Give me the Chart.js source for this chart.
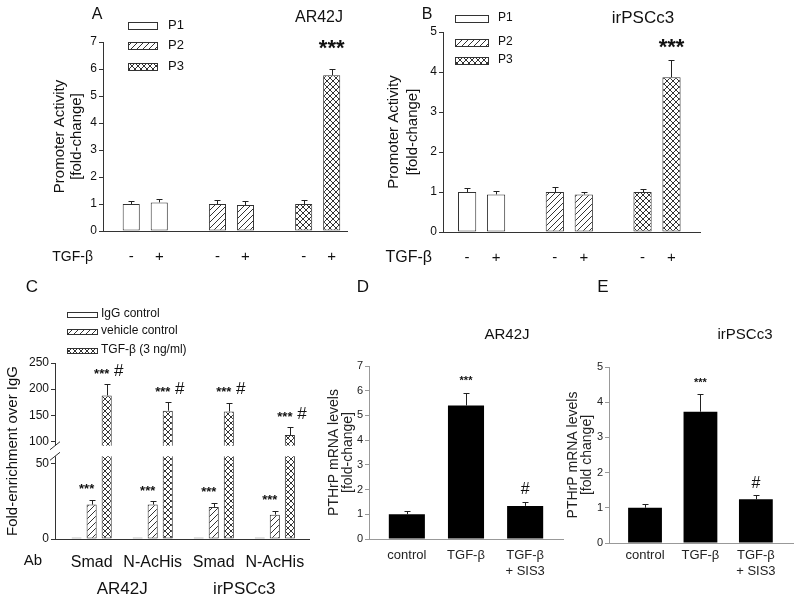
<!DOCTYPE html>
<html lang="en">
<head>
<meta charset="UTF-8">
<title>PTHrP promoter activity, ChIP enrichment and mRNA levels</title>
<script src="https://cdn.jsdelivr.net/npm/chart.js"></script>
<style>
  body { margin: 0; background: #fff; }
  #page { position: relative; width: 800px; height: 601px; overflow: hidden; }
  .panel { position: absolute; }
</style>
</head>
<body>
<div id="page">
  <div class="panel" style="left:0;top:0;width:370px;height:270px"><canvas id="chartA"></canvas></div>
  <div class="panel" style="left:370px;top:0;width:430px;height:270px"><canvas id="chartB"></canvas></div>
  <div class="panel" style="left:0;top:270px;width:330px;height:331px"><canvas id="chartC"></canvas></div>
  <div class="panel" style="left:322px;top:270px;width:248px;height:331px"><canvas id="chartD"></canvas></div>
  <div class="panel" style="left:560px;top:270px;width:240px;height:331px"><canvas id="chartE"></canvas></div>
</div>

<script>
const SANS = '"Liberation Sans", Arial, sans-serif';
const NARROW = '"Liberation Sans Narrow", "Arial Narrow", "Liberation Sans", sans-serif';

// --- A / B: promoter reporter assays ---
const promoters = ['P1', 'P2', 'P3'];
const treatments = ['-', '+'];

const aMinus = [1.0, 1.0, 1.0];
const aMinusErr = [0.10, 0.14, 0.14];
const aPlus = [1.06, 0.96, 5.77];
const aPlusErr = [0.14, 0.14, 0.22];
const aPlusStars = ['', '', '***'];

const bMinus = [1.0, 1.0, 1.0];
const bMinusErr = [0.11, 0.13, 0.07];
const bPlus = [0.94, 0.94, 3.87];
const bPlusErr = [0.09, 0.06, 0.44];
const bPlusStars = ['', '', '***'];

// --- C: ChIP fold-enrichment ---
const cAntibodies = ['Smad', 'N-AcHis', 'Smad', 'N-AcHis'];
const cCells = ['AR42J', 'irPSCc3'];
const cConditions = ['IgG control', 'vehicle control', 'TGF-β (3 ng/ml)'];
const cIgG = [1, 1, 1, 1];
const cVehicle = [22.9, 22.9, 21.3, 16.2];
const cVehicleErr = [3.3, 2.1, 2.7, 2.7];
const cVehicleStars = ['***', '***', '***', '***'];
const cTgf = [188, 159, 157.5, 112.5];
const cTgfErr = [22, 16, 17, 14.5];
const cTgfStars = ['***', '***', '***', '***'];
const cTgfHash = ['#', '#', '#', '#'];

// --- D / E: PTHrP mRNA ---
const mrnaGroups = ['control', 'TGF-β', ['TGF-β', '+ SIS3']];
const dMrna = [1.0, 5.4, 1.34];
const dErr = [0.13, 0.5, 0.15];
const eMrna = [1.0, 3.73, 1.24];
const eErr = [0.12, 0.51, 0.13];
const mrnaStars = ['', '***', ''];
const mrnaHash = ['', '', '#'];

Chart.defaults.animation = false;
Chart.defaults.font.family = SANS;
Chart.defaults.color = '#111';
Chart.defaults.plugins.legend.display = false;
Chart.defaults.plugins.tooltip.enabled = false;

// linear scale with a cut between gap.from and gap.to
class BrokenScale extends Chart.LinearScale {
  getPixelForValue(v) {
    if (v === null) return NaN;
    const g = this.options.gap;
    let d;
    if (v <= g.from) d = (v - this.min) / (g.from - this.min) * g.lo;
    else if (v >= g.to) d = g.hi + (v - g.to) / (this.max - g.to) * (1 - g.hi);
    else d = g.lo + (v - g.from) / (g.to - g.from) * (g.hi - g.lo);
    return this.getPixelForDecimal(d);
  }
  getValueForPixel(p) {
    const g = this.options.gap;
    const d = this.getDecimalForPixel(p);
    if (d <= g.lo) return this.min + d / g.lo * (g.from - this.min);
    if (d >= g.hi) return g.to + (d - g.hi) / (1 - g.hi) * (this.max - g.to);
    return g.from + (d - g.lo) / (g.hi - g.lo) * (g.to - g.from);
  }
}
BrokenScale.id = 'broken';
BrokenScale.defaults = Chart.LinearScale.defaults;
Chart.register(BrokenScale);

function pattern(kind) {
  const s = 6;
  const c = document.createElement('canvas');
  c.width = s; c.height = s;
  const g = c.getContext('2d');
  g.fillStyle = '#fff';
  g.fillRect(0, 0, s, s);
  g.strokeStyle = '#333';
  g.lineWidth = 1;
  g.beginPath();
  for (let k = -1; k <= 1; k++) {
    g.moveTo(k * s, s); g.lineTo(k * s + s, 0);
    if (kind === 'cross') { g.moveTo(k * s, 0); g.lineTo(k * s + s, s); }
  }
  g.stroke();
  return g.createPattern(c, 'repeat');
}
const HATCH = pattern('hatch');
const CROSS = pattern('cross');
const promoterFills = ['#fff', HATCH, CROSS];

const toPoints = vals => vals.map((y, i) => ({ x: i, y }));

// error bars, significance marks, in-plot legend and loose labels
function decor(o) {
  return {
    id: 'decor',
    afterDatasetsDraw(chart) {
      const { ctx, chartArea: ca, scales: { y: ys } } = chart;
      ctx.save();
      if (o.gap) {
        const yHi = ys.getPixelForValue(o.gap.to), yLo = ys.getPixelForValue(o.gap.from);
        ctx.fillStyle = '#fff';
        ctx.fillRect(ca.left - 2, yHi, ca.right - ca.left + 2, yLo - yHi);
        ctx.strokeStyle = '#333';
        ctx.lineWidth = 1;
        ctx.beginPath();
        [yHi, yLo].forEach(y => { ctx.moveTo(ca.left - 5, y + 4); ctx.lineTo(ca.left + 5, y - 4); });
        ctx.stroke();
      }
      chart.data.datasets.forEach((ds, di) => {
        const meta = chart.getDatasetMeta(di);
        meta.data.forEach((bar, i) => {
          const v = meta.controller.getParsed(i).y;
          const e = ds.errors ? ds.errors[i] : 0;
          const top = ys.getPixelForValue(v + e);
          const bx = Math.round(bar.x) + 0.5;
          if (e) {
            const yt = Math.round(top) + 0.5;
            ctx.strokeStyle = '#222';
            ctx.lineWidth = 1;
            ctx.beginPath();
            ctx.moveTo(bx, bar.y); ctx.lineTo(bx, yt);
            ctx.moveTo(bx - o.cap, yt); ctx.lineTo(bx + o.cap, yt);
            ctx.stroke();
          }
          ctx.fillStyle = '#111';
          ctx.textAlign = 'center';
          ctx.textBaseline = 'middle';
          if (ds.stars && ds.stars[i]) {
            ctx.font = o.starFont;
            ctx.fillText(ds.stars[i], bar.x + (o.starDx || 0), top - o.starDy);
          }
          if (ds.hashes && ds.hashes[i]) {
            ctx.font = o.hashFont;
            ctx.fillText(ds.hashes[i], bar.x + (o.hashDx || 0), top - o.hashDy);
          }
          if (o.treatY) {
            ctx.font = o.treatFont;
            ctx.fillText(ds.label, bar.x, ca.bottom + o.treatY);
          }
        });
      });
      if (o.legend) {
        const L = o.legend;
        L.labels.forEach((lab, i) => {
          const y = L.ys[i];
          ctx.fillStyle = L.fills[i];
          ctx.fillRect(L.x, Math.round(y - L.h / 2), L.w, L.h);
          ctx.strokeStyle = '#333';
          ctx.strokeRect(L.x + 0.5, Math.round(y - L.h / 2) + 0.5, L.w, L.h);
          ctx.fillStyle = '#111';
          ctx.font = L.font;
          ctx.textAlign = 'left';
          ctx.textBaseline = 'middle';
          ctx.fillText(lab, L.tx, y);
        });
      }
      if (o.cells) {
        const xs = chart.scales.x;
        ctx.font = o.cells.font;
        ctx.textAlign = 'center';
        ctx.textBaseline = 'middle';
        ctx.fillStyle = '#111';
        o.cells.labels.forEach((lab, k) => {
          const x = (xs.getPixelForValue(2 * k) + xs.getPixelForValue(2 * k + 1)) / 2;
          ctx.fillText(lab, x, o.cells.y);
        });
      }
      (o.texts || []).forEach(t => {
        ctx.font = t.font;
        ctx.textAlign = t.align || 'center';
        ctx.textBaseline = 'middle';
        ctx.fillStyle = '#111';
        ctx.fillText(t.t, t.x, t.y);
      });
      ctx.restore();
    }
  };
}

function makeChart(id, datasets, o, deco) {
  return new Chart(document.getElementById(id), {
    type: 'bar',
    data: { datasets },
    options: {
      maintainAspectRatio: false,
      layout: { padding: o.pad },
      datasets: { bar: { categoryPercentage: o.catPct, barPercentage: o.barPct, borderSkipped: false } },
      scales: {
        x: {
          type: 'linear', min: o.xMin, max: o.xMax, bounds: 'data', offset: false,
          grid: { display: false, offset: false },
          border: { color: o.axis },
          afterBuildTicks: s => { s.ticks = o.xLabels.map((_, i) => ({ value: i })); },
          afterFit: s => { s.height = o.xHeight; },
          ticks: {
            display: o.showX, autoSkip: false, maxRotation: 0, padding: o.xPad || 0,
            color: o.text, font: o.xFont, callback: (v, i) => o.xLabels[i]
          }
        },
        y: {
          type: o.yType || 'linear', min: o.yMin, max: o.yMax, gap: o.gap,
          ticks: { stepSize: o.yStep, font: o.yFont, padding: 2, color: o.text },
          grid: { drawOnChartArea: false, tickLength: 4, color: o.axis },
          border: { color: o.axis },
          title: { display: true, text: o.yTitle, font: o.titleFont, padding: 0, color: o.text },
          afterFit: s => { s.width = o.yWidth; }
        }
      }
    },
    plugins: [decor(deco)]
  });
}

// A
makeChart('chartA', [
  { label: treatments[0], data: toPoints(aMinus), errors: aMinusErr, backgroundColor: promoterFills, borderColor: '#333', borderWidth: 1 },
  { label: treatments[1], data: toPoints(aPlus), errors: aPlusErr, stars: aPlusStars, backgroundColor: promoterFills, borderColor: '#333', borderWidth: 1 }
], {
  pad: { left: 52, top: 42, right: 23, bottom: 0 }, xMin: -0.49, xMax: 2.34, xHeight: 39, xLabels: promoters, showX: false,
  yWidth: 51, yMin: 0, yMax: 7, yStep: 1, yFont: { size: 12 },
  yTitle: ['Promoter Activity', '[fold-change]'], titleFont: { size: 15, lineHeight: 1.1 },
  catPct: 0.65, barPct: 0.61, axis: '#333', text: '#111'
}, {
  cap: 3, starFont: 'bold 22px ' + SANS, starDy: 20, treatY: 26, treatFont: '15px ' + SANS,
  legend: { labels: promoters, fills: promoterFills, x: 128, w: 29, h: 7, ys: [25, 45, 66], tx: 168, font: '13px ' + SANS },
  texts: [
    { t: 'A', x: 97, y: 15, font: '16px ' + SANS },
    { t: 'AR42J', x: 343, y: 18, font: '16px ' + SANS, align: 'right' },
    { t: 'TGF-β', x: 93, y: 257, font: '14px ' + SANS, align: 'right' }
  ]
});

// B
makeChart('chartB', [
  { label: treatments[0], data: toPoints(bMinus), errors: bMinusErr, backgroundColor: promoterFills, borderColor: '#333', borderWidth: 1 },
  { label: treatments[1], data: toPoints(bPlus), errors: bPlusErr, stars: bPlusStars, backgroundColor: promoterFills, borderColor: '#333', borderWidth: 1 }
], {
  pad: { left: 14, top: 32, right: 100, bottom: 0 }, xMin: -0.44, xMax: 2.49, xHeight: 38, xLabels: promoters, showX: false,
  yWidth: 59, yMin: 0, yMax: 5, yStep: 1, yFont: { size: 12 },
  yTitle: ['Promoter Activity', '[fold-change]'], titleFont: { size: 15, lineHeight: 1.3 },
  catPct: 0.66, barPct: 0.63, axis: '#333', text: '#111'
}, {
  cap: 3, starFont: 'bold 22px ' + SANS, starDy: 12, treatY: 26, treatFont: '15px ' + SANS,
  legend: { labels: promoters, fills: promoterFills, x: 85, w: 33, h: 7, ys: [18, 42, 60], tx: 128, font: '12px ' + SANS },
  texts: [
    { t: 'B', x: 57, y: 15, font: '16px ' + SANS },
    { t: 'irPSCc3', x: 273, y: 18, font: '17px ' + SANS },
    { t: 'TGF-β', x: 62, y: 258, font: '16px ' + SANS, align: 'right' }
  ]
});

// C
makeChart('chartC', [
  { label: cConditions[0], data: toPoints(cIgG), backgroundColor: '#ddd', borderColor: '#888', borderWidth: 1 },
  { label: cConditions[1], data: toPoints(cVehicle), errors: cVehicleErr, stars: cVehicleStars, backgroundColor: HATCH, borderColor: '#333', borderWidth: 1 },
  { label: cConditions[2], data: toPoints(cTgf), errors: cTgfErr, stars: cTgfStars, hashes: cTgfHash, backgroundColor: CROSS, borderColor: '#333', borderWidth: 1 }
], {
  pad: { left: 4, top: 93, right: 21, bottom: 0 }, xMin: -0.6, xMax: 3.56, xHeight: 62, xLabels: cAntibodies, showX: true,
  xFont: { size: 16 }, xPad: 6,
  yWidth: 51, yType: 'broken', yMin: 0, yMax: 250, yStep: 50, yFont: { size: 12 },
  gap: { from: 55, to: 92, lo: 0.47, hi: 0.53 },
  yTitle: 'Fold-enrichment over IgG', titleFont: { size: 15, lineHeight: 1.2 },
  catPct: 0.74, barPct: 0.67, axis: '#333', text: '#111'
}, {
  cap: 3, gap: { from: 55, to: 92 },
  starFont: 'bold 13px ' + SANS, starDx: -5, starDy: 10,
  hashFont: '17px ' + SANS, hashDx: 12, hashDy: 13,
  legend: { labels: cConditions, fills: ['#fff', HATCH, CROSS], x: 67, w: 30, h: 5, ys: [44, 61, 80], tx: 101, font: '12px ' + SANS },
  cells: { labels: cCells, y: 319, font: '17px ' + SANS },
  texts: [
    { t: 'C', x: 32, y: 17, font: '17px ' + SANS },
    { t: 'Ab', x: 33, y: 291, font: '15px ' + SANS }
  ]
});

// D
makeChart('chartD', [
  { label: 'PTHrP mRNA', data: toPoints(dMrna), errors: dErr, stars: mrnaStars, hashes: mrnaHash, backgroundColor: '#000' }
], {
  pad: { left: 5, top: 96, right: 7, bottom: 0 }, xMin: -0.64, xMax: 2.64, xHeight: 62, xLabels: mrnaGroups, showX: true,
  xFont: { size: 13, family: NARROW }, xPad: 1,
  yWidth: 42, yMin: 0, yMax: 7, yStep: 1, yFont: { size: 11, family: NARROW },
  yTitle: ['PTHrP mRNA levels', '[fold-change]'], titleFont: { size: 14, lineHeight: 1.0 },
  catPct: 1, barPct: 0.61, axis: '#999', text: '#222'
}, {
  cap: 3, starFont: 'bold 11px ' + SANS, starDy: 12, hashFont: '16px ' + SANS, hashDy: 13,
  texts: [
    { t: 'D', x: 41, y: 17, font: '17px ' + SANS },
    { t: 'AR42J', x: 185, y: 65, font: '15px ' + NARROW }
  ]
});

// E
makeChart('chartE', [
  { label: 'PTHrP mRNA', data: toPoints(eMrna), errors: eErr, stars: mrnaStars, hashes: mrnaHash, backgroundColor: '#000' }
], {
  pad: { left: 6, top: 97, right: 7, bottom: 0 }, xMin: -0.65, xMax: 2.67, xHeight: 58, xLabels: mrnaGroups, showX: true,
  xFont: { size: 13, family: NARROW }, xPad: -3,
  yWidth: 43, yMin: 0, yMax: 5, yStep: 1, yFont: { size: 11, family: NARROW },
  yTitle: ['PTHrP mRNA levels', '[fold change]'], titleFont: { size: 14, lineHeight: 1.0 },
  catPct: 1, barPct: 0.61, axis: '#999', text: '#222'
}, {
  cap: 3, starFont: 'bold 11px ' + SANS, starDy: 11, hashFont: '16px ' + SANS, hashDy: 11,
  texts: [
    { t: 'E', x: 43, y: 17, font: '17px ' + SANS },
    { t: 'irPSCc3', x: 185, y: 65, font: '15px ' + NARROW }
  ]
});
</script>
</body>
</html>
